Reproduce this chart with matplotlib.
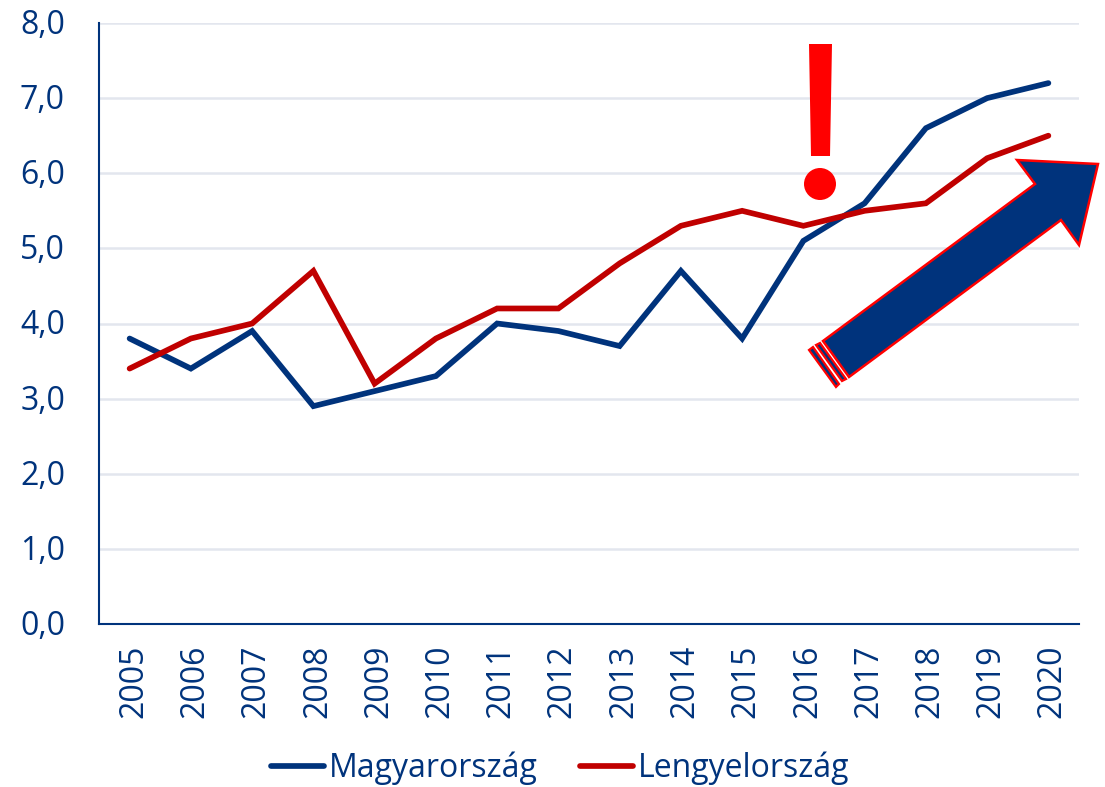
#! /usr/bin/python3

import matplotlib
matplotlib.use('Agg')
import matplotlib.pyplot as plt
from matplotlib.patches import Polygon, Ellipse
from matplotlib.transforms import ScaledTranslation

years = ['2005', '2006', '2007', '2008', '2009', '2010', '2011', '2012',
	'2013', '2014', '2015', '2016', '2017', '2018', '2019', '2020']
hungary = [3.8, 3.4, 3.9, 2.9, 3.1, 3.3, 4.0, 3.9, 3.7, 4.7, 3.8, 5.1, 5.6, 6.6, 7.0, 7.2]
poland = [3.4, 3.8, 4.0, 4.7, 3.2, 3.8, 4.2, 4.2, 4.8, 5.3, 5.5, 5.3, 5.5, 5.6, 6.2, 6.5]
yticks = [0, 1, 2, 3, 4, 5, 6, 7, 8]

W, H = 1105, 787
NAVY = '#00337c'
DARKRED = '#c00000'
RED = '#ff0000'
GRID = '#e3e6ee'

plt.rcParams['font.family'] = ['Open Sans', 'DejaVu Sans']


def px(x, y):
	# figure fraction from picture pixels
	return (x / W, 1 - y / H)


def shape(fig, pts, **kw):
	fig.add_artist(Polygon([px(*p) for p in pts], closed=True,
		transform=fig.transFigure, **kw))


fig = plt.figure(figsize=(W / 100, H / 100), dpi=100)
ax = fig.add_axes([99 / W, 1 - 624 / H, (1079 - 99) / W, (624 - 23) / H])

x = range(len(years))
ax.plot(x, hungary, color=NAVY, lw=4.1, solid_capstyle='round', solid_joinstyle='miter', label='Magyarország', zorder=3)
ax.plot(x, poland, color=DARKRED, lw=4.1, solid_capstyle='round', solid_joinstyle='miter', label='Lengyelország', zorder=3)

ax.set_xlim(-0.5, len(years) - 0.5)
ax.set_ylim(0, 8)
ax.set_xticks(list(x))
ax.set_xticklabels(years, rotation=90)
ax.set_yticks(yticks)
ax.set_yticklabels(['%d,0' % v for v in yticks])
ax.tick_params(axis='x', length=0, labelsize=23, labelcolor=NAVY, pad=15)
ax.tick_params(axis='y', length=0, labelsize=23, labelcolor=NAVY, pad=24.5)
ax.grid(axis='y', color=GRID, lw=1.8)
ax.set_axisbelow(True)

# nudge the labels a few pixels
for lab in ax.get_xticklabels():
	lab.set_transform(lab.get_transform() + ScaledTranslation(4 / 100, 0, fig.dpi_scale_trans))
for lab in ax.get_yticklabels():
	lab.set_transform(lab.get_transform() + ScaledTranslation(0, 1.5 / 100, fig.dpi_scale_trans))

for s in ['top', 'right']:
	ax.spines[s].set_visible(False)
for s in ['left', 'bottom']:
	ax.spines[s].set_color(NAVY)
	ax.spines[s].set_linewidth(1.5)

fig.legend(loc='center', bbox_to_anchor=px(560, 768), ncol=2, frameon=False,
	fontsize=23, labelcolor=NAVY, handlelength=1.66, handletextpad=0.15,
	columnspacing=1.32)

# exclamation mark
shape(fig, [(809, 44), (832, 44), (830, 156), (811, 156)], fc=RED, ec='none')
cx, cy = px(820, 184)
fig.add_artist(Ellipse((cx, cy), 32 / W, 32 / H, transform=fig.transFigure, fc=RED, ec='none'))

# striped arrow
shape(fig, [(823, 341), (1035, 184), (1017, 160), (1098, 164), (1079, 245),
	(1061, 220), (849, 377)], fc=NAVY, ec=RED, lw=1.8)
shape(fig, [(816, 345), (820, 343), (846, 379), (842, 381)], fc=NAVY, ec=RED, lw=1.6)
shape(fig, [(809, 350), (813, 347), (839, 384), (836, 387)], fc=NAVY, ec=RED, lw=1.6)

fig.savefig('out.png', dpi=100)
